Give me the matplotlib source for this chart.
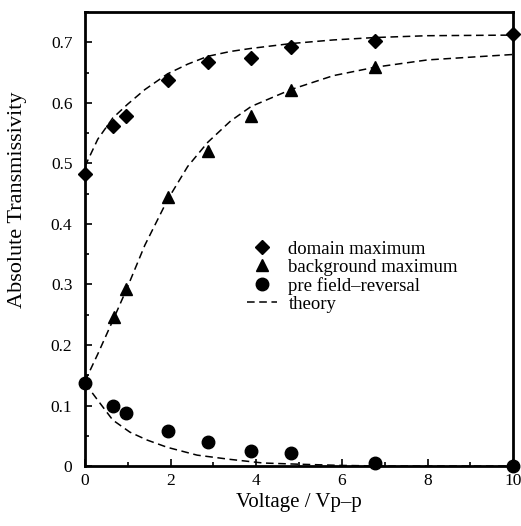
import matplotlib.pyplot as plt
from matplotlib.ticker import MultipleLocator

plt.rcParams['font.family'] = ['Liberation Serif', 'DejaVu Serif']

# measured points
domain_x = [0.0, 0.65, 0.96, 1.93, 2.87, 3.88, 4.81, 6.78, 10.0]
domain_y = [0.483, 0.561, 0.578, 0.637, 0.668, 0.674, 0.692, 0.702, 0.713]

background_x = [0.68, 0.96, 1.93, 2.87, 3.88, 4.81, 6.78]
background_y = [0.247, 0.293, 0.445, 0.521, 0.578, 0.622, 0.660]

reversal_x = [0.0, 0.65, 0.96, 1.93, 2.87, 3.88, 4.81, 6.78, 10.0]
reversal_y = [0.138, 0.099, 0.088, 0.058, 0.040, 0.025, 0.021, 0.005, 0.0]

# model curves
theory_dom_x = [0.0, 0.3, 0.65, 1.0, 1.4, 1.93, 2.4, 2.87, 3.4, 3.88, 4.81, 5.8, 6.78, 8.0, 10.0]
theory_dom_y = [0.495, 0.540, 0.575, 0.598, 0.622, 0.648, 0.664, 0.677, 0.685, 0.690, 0.698, 0.704, 0.708, 0.711, 0.712]

theory_bg_x = [0.0, 0.3, 0.68, 0.96, 1.4, 1.93, 2.4, 2.87, 3.4, 3.88, 4.81, 5.8, 6.78, 8.0, 10.0]
theory_bg_y = [0.140, 0.185, 0.245, 0.290, 0.365, 0.440, 0.495, 0.535, 0.570, 0.594, 0.622, 0.645, 0.659, 0.671, 0.680]

theory_rev_x = [0.0, 0.35, 0.65, 1.05, 1.45, 1.92, 2.62, 3.39, 4.16, 5.0, 6.0, 7.0, 8.0, 10.0]
theory_rev_y = [0.137, 0.104, 0.076, 0.056, 0.043, 0.031, 0.018, 0.011, 0.005, 0.003, 0.001, 0.0, 0.0, 0.0]

xticks = [0, 2, 4, 6, 8, 10]
yticks = [0, 0.1, 0.2, 0.3, 0.4, 0.5, 0.6, 0.7]
ytick_labels = ['0', '0.1', '0.2', '0.3', '0.4', '0.5', '0.6', '0.7']

fig = plt.figure(figsize=(5.21, 5.26), dpi=100)
ax = fig.add_axes([0.163, 0.114, 0.822, 0.863])

dash = (0, (5, 3))
ax.plot(theory_dom_x, theory_dom_y, color='black', lw=1.1, linestyle=dash)
ax.plot(theory_bg_x, theory_bg_y, color='black', lw=1.1, linestyle=dash)
ax.plot(theory_rev_x, theory_rev_y, color='black', lw=1.1, linestyle=dash, label='theory')

ax.plot(domain_x, domain_y, 'D', color='black', markersize=7.5, label='domain maximum', clip_on=False)
ax.plot(background_x, background_y, '^', color='black', markersize=9, label='background maximum', clip_on=False)
ax.plot(reversal_x, reversal_y, 'o', color='black', markersize=9, label='pre field\u2013reversal', clip_on=False)

ax.set_xlim(0, 10)
ax.set_ylim(0, 0.75)
ax.set_xticks(xticks)
ax.set_xticklabels([str(t) for t in xticks])
ax.set_yticks(yticks)
ax.set_yticklabels(ytick_labels)
ax.xaxis.set_minor_locator(MultipleLocator(1))
ax.yaxis.set_minor_locator(MultipleLocator(0.05))
ax.tick_params(which='both', direction='in', labelsize=12.5, width=1.2)
ax.tick_params(axis='y', pad=9)
ax.tick_params(axis='x', pad=5)
ax.tick_params(which='major', length=5)
ax.tick_params(which='minor', length=3)
for s in ax.spines.values():
    s.set_linewidth(2)

ax.set_xlabel('Voltage / Vp\u2013p', fontsize=15)
ax.xaxis.set_label_coords(0.5, -0.06)
ax.set_ylabel('Absolute Transmissivity', fontsize=16)
ax.yaxis.set_label_coords(-0.135, 0.586)

h, l = ax.get_legend_handles_labels()
order = [1, 2, 3, 0]
ax.legend([h[i] for i in order], [l[i] for i in order], loc='center',
          bbox_to_anchor=(0.625, 0.417), frameon=False, fontsize=13.5,
          handlelength=1.6, handletextpad=0.6, labelspacing=0.05, borderpad=0)

plt.savefig('out.png', dpi=100)
plt.close()
